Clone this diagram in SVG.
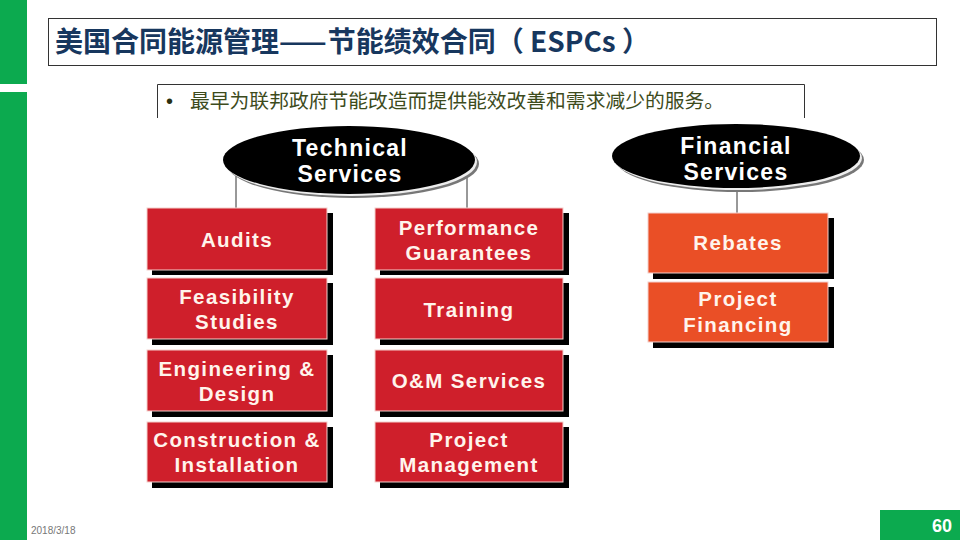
<svg xmlns="http://www.w3.org/2000/svg" width="960" height="540" viewBox="0 0 960 540">
<style>
.box{stroke:#f4d0cc;stroke-width:1}
.red{fill:#cf1f2b}
.org{fill:#ea4f26}
.sh{fill:#000}
.bt{font-family:"Liberation Sans",Arial,sans-serif;font-weight:bold;font-size:20.5px;fill:#fff4ec;text-anchor:middle;letter-spacing:1.4px}
.et{font-family:"Liberation Sans",Arial,sans-serif;font-weight:bold;font-size:23px;fill:#ffffff;text-anchor:middle;letter-spacing:1.3px}
.ln{stroke:#333;stroke-width:1;fill:none}
</style>
<rect width="960" height="540" fill="#fff"/>
<rect x="0" y="0" width="27" height="84" fill="#0caa4f"/>
<rect x="0" y="92" width="27" height="448" fill="#0caa4f"/>
<g id="title">
<rect x="48.5" y="18.5" width="888" height="47" fill="none" stroke="#333" stroke-width="1"/>
<text x="55" y="52" font-family="'Noto Sans CJK SC','Noto Sans',sans-serif" font-weight="bold" font-size="28" fill="#17375e">美国合同能源管理<tspan letter-spacing="1">——</tspan>节能绩效合同（ ESPCs ）</text>
</g>
<g id="subtitle">
<path d="M157.5 118 V84.5 H804.5 V118" fill="none" stroke="#333" stroke-width="1"/>
<text x="166" y="108" font-family="'Liberation Sans',Arial,sans-serif" font-size="20" fill="#2a3010">•</text>
<text x="190" y="108" font-family="'Noto Sans CJK SC',sans-serif" font-size="19.8" fill="#3d4b1c">最早为联邦政府节能改造而提供能效改善和需求减少的服务。</text>
</g>
<g id="connectors">
<line class="ln" x1="236" y1="172" x2="236" y2="208"/>
<line class="ln" x1="467" y1="172" x2="467" y2="208"/>
<line class="ln" x1="737" y1="185" x2="737" y2="213"/>
</g>
<g id="technical">
<ellipse cx="353" cy="164" rx="126" ry="34" fill="#777"/>
<ellipse cx="351" cy="162" rx="126" ry="34" fill="#eee"/>
<ellipse cx="349" cy="160" rx="126" ry="34" fill="#000"/>
<text class="et" x="350" y="156">Technical</text>
<text class="et" x="350" y="182">Services</text>
</g>
<g id="financial">
<ellipse cx="740" cy="160" rx="124" ry="32" fill="#777"/>
<ellipse cx="738" cy="158" rx="124" ry="32" fill="#eee"/>
<ellipse cx="736" cy="156" rx="124" ry="32" fill="#000"/>
<text class="et" x="736" y="154">Financial</text>
<text class="et" x="736" y="180">Services</text>
</g>
<g id="audits">
<rect class="sh" x="152" y="213" width="181" height="62"/>
<rect class="red box" x="147" y="208" width="180" height="62"/>
<text class="bt" x="237" y="247">Audits</text>
</g>
<g id="feasibility">
<rect class="sh" x="152" y="283" width="181" height="62"/>
<rect class="red box" x="147" y="278" width="180" height="61"/>
<text class="bt" x="237" y="304">Feasibility</text>
<text class="bt" x="237" y="329">Studies</text>
</g>
<g id="engineering">
<rect class="sh" x="152" y="355" width="181" height="62"/>
<rect class="red box" x="147" y="350" width="180" height="61"/>
<text class="bt" x="237" y="376">Engineering &amp;</text>
<text class="bt" x="237" y="401">Design</text>
</g>
<g id="construction">
<rect class="sh" x="152" y="427" width="181" height="61"/>
<rect class="red box" x="147" y="422" width="180" height="60"/>
<text class="bt" x="237" y="447">Construction &amp;</text>
<text class="bt" x="237" y="472">Installation</text>
</g>
<g id="performance">
<rect class="sh" x="380" y="213" width="189" height="62"/>
<rect class="red box" x="375" y="208" width="188" height="62"/>
<text class="bt" x="469" y="235">Performance</text>
<text class="bt" x="469" y="260">Guarantees</text>
</g>
<g id="training">
<rect class="sh" x="380" y="283" width="189" height="62"/>
<rect class="red box" x="375" y="278" width="188" height="61"/>
<text class="bt" x="469" y="317">Training</text>
</g>
<g id="om">
<rect class="sh" x="380" y="355" width="189" height="62"/>
<rect class="red box" x="375" y="350" width="188" height="61"/>
<text class="bt" x="469" y="388">O&amp;M Services</text>
</g>
<g id="projmgmt">
<rect class="sh" x="380" y="427" width="189" height="61"/>
<rect class="red box" x="375" y="422" width="188" height="60"/>
<text class="bt" x="469" y="447">Project</text>
<text class="bt" x="469" y="472">Management</text>
</g>
<g id="rebates">
<rect class="sh" x="653" y="218" width="181" height="61"/>
<rect class="org box" x="648" y="213" width="180" height="60"/>
<text class="bt" x="738" y="250">Rebates</text>
</g>
<g id="projfin">
<rect class="sh" x="653" y="287" width="181" height="61"/>
<rect class="org box" x="648" y="282" width="180" height="60"/>
<text class="bt" x="738" y="306">Project</text>
<text class="bt" x="738" y="332">Financing</text>
</g>
<text x="31" y="534" font-family="'Liberation Sans',Arial,sans-serif" font-size="10" fill="#777">2018/3/18</text>
<rect x="880" y="510" width="80" height="30" fill="#0caa4f"/>
<text x="952" y="532" text-anchor="end" font-family="'Liberation Sans',Arial,sans-serif" font-weight="bold" font-size="18" fill="#fff">60</text>
</svg>
